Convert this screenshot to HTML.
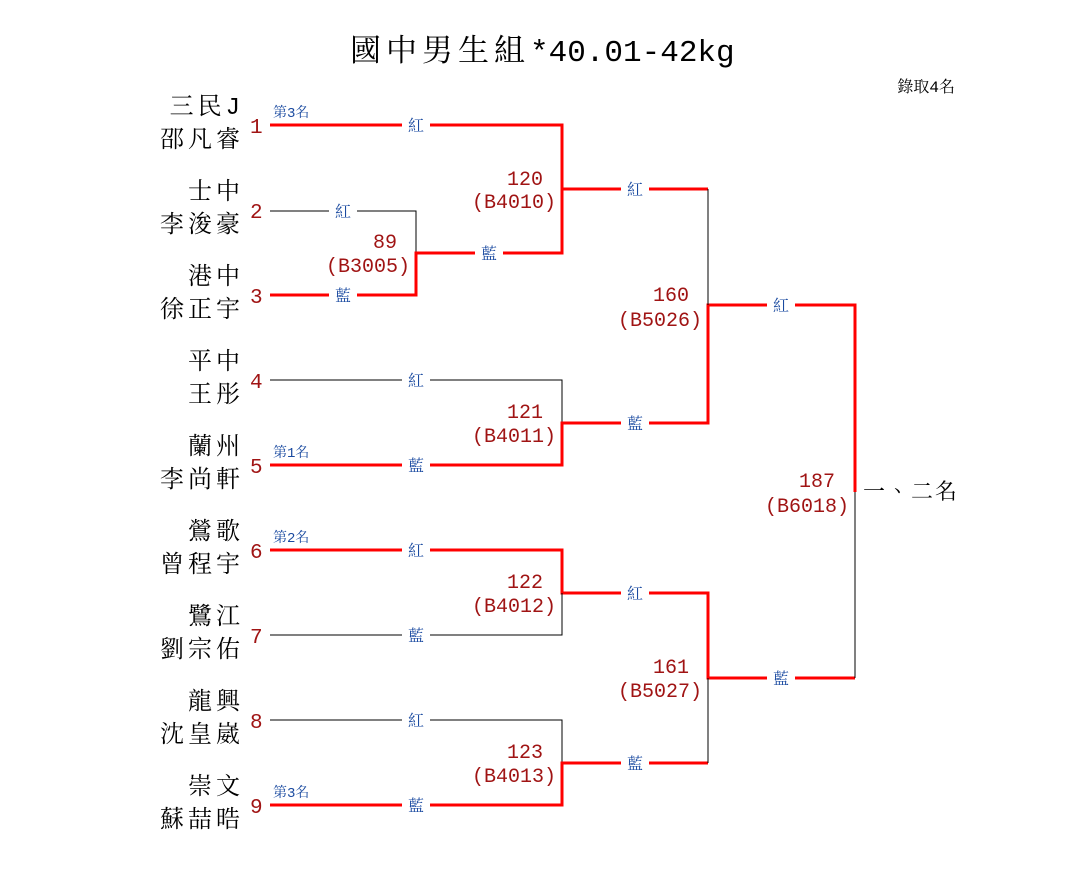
<!DOCTYPE html>
<html><head><meta charset="utf-8"><style>
html,body{margin:0;padding:0;background:#fff}
svg{display:block}
text{font-family:"Liberation Mono","Noto Serif CJK TC","Noto Serif CJK SC",serif}
.nm{font-size:24px;fill:#000;text-anchor:end;letter-spacing:4px}
.no{font-size:21px;fill:#a01414}
.mt{font-size:20px;fill:#a01414;text-anchor:end}
.lb{font-size:16px;fill:#1a4aa0;text-anchor:middle}
.sm{font-size:14px;fill:#1a4aa0}
.r{stroke:#ff0000;stroke-width:3;fill:none}
.k{stroke:#000;stroke-width:1;fill:none}
</style></head><body>
<svg width="1085" height="890" xmlns="http://www.w3.org/2000/svg">
<text x="350" y="61" font-size="31"><tspan letter-spacing="5">國中男生組</tspan><tspan>*40.01-42kg</tspan></text>
<text x="955" y="92" font-size="16" text-anchor="end">錄取4名</text>

<!-- names -->
<g transform="translate(4,0)">
<text class="nm" x="240" y="114">三民J</text><text class="nm" x="240" y="147">邵凡睿</text>
<text class="nm" x="240" y="199">士中</text><text class="nm" x="240" y="232">李浚豪</text>
<text class="nm" x="240" y="284">港中</text><text class="nm" x="240" y="317">徐正宇</text>
<text class="nm" x="240" y="369">平中</text><text class="nm" x="240" y="402">王彤</text>
<text class="nm" x="240" y="454">蘭州</text><text class="nm" x="240" y="487">李尚軒</text>
<text class="nm" x="240" y="539">鶯歌</text><text class="nm" x="240" y="572">曾程宇</text>
<text class="nm" x="240" y="624">鷺江</text><text class="nm" x="240" y="657">劉宗佑</text>
<text class="nm" x="240" y="709">龍興</text><text class="nm" x="240" y="742">沈皇崴</text>
<text class="nm" x="240" y="794">崇文</text><text class="nm" x="240" y="827">蘇喆晧</text>
</g>

<!-- seeds -->
<text class="no" x="250" y="133">1</text>
<text class="no" x="250" y="218">2</text>
<text class="no" x="250" y="303">3</text>
<text class="no" x="250" y="388">4</text>
<text class="no" x="250" y="473">5</text>
<text class="no" x="250" y="558">6</text>
<text class="no" x="250" y="643">7</text>
<text class="no" x="250" y="728">8</text>
<text class="no" x="250" y="813">9</text>

<text class="sm" x="273" y="117">第3名</text>
<text class="sm" x="273" y="457">第1名</text>
<text class="sm" x="273" y="542">第2名</text>
<text class="sm" x="273" y="797">第3名</text>

<!-- lines -->
<path class="r" d="M270 125H562V189"/>
<path class="k" d="M270 211H416V253"/>
<path class="r" d="M270 295H416V253H562V189H708"/>
<path class="k" d="M270 380H562V423"/>
<path class="r" d="M270 465H562V423H708V305H855V492"/>
<path class="k" d="M708 189V305"/>
<path class="r" d="M270 550H562V593H708V678H855"/>
<path class="k" d="M270 635H562V593"/>
<path class="k" d="M270 720H562V763"/>
<path class="r" d="M270 805H562V763H708"/>
<path class="k" d="M708 678V763"/>
<path class="k" d="M855 492V678"/>

<!-- labels -->
<g fill="#fff">
<rect x="402" y="114" width="28" height="22"/>
<rect x="329" y="200" width="28" height="22"/>
<rect x="329" y="284" width="28" height="22"/>
<rect x="475" y="242" width="28" height="22"/>
<rect x="621" y="178" width="28" height="22"/>
<rect x="402" y="369" width="28" height="22"/>
<rect x="402" y="454" width="28" height="22"/>
<rect x="621" y="412" width="28" height="22"/>
<rect x="767" y="294" width="28" height="22"/>
<rect x="402" y="539" width="28" height="22"/>
<rect x="402" y="624" width="28" height="22"/>
<rect x="621" y="582" width="28" height="22"/>
<rect x="402" y="709" width="28" height="22"/>
<rect x="402" y="794" width="28" height="22"/>
<rect x="621" y="752" width="28" height="22"/>
<rect x="767" y="667" width="28" height="22"/>
</g>
<text class="lb" x="416" y="131">紅</text>
<text class="lb" x="343" y="217">紅</text>
<text class="lb" x="343" y="301">藍</text>
<text class="lb" x="489" y="259">藍</text>
<text class="lb" x="635" y="195">紅</text>
<text class="lb" x="416" y="386">紅</text>
<text class="lb" x="416" y="471">藍</text>
<text class="lb" x="635" y="429">藍</text>
<text class="lb" x="781" y="311">紅</text>
<text class="lb" x="416" y="556">紅</text>
<text class="lb" x="416" y="641">藍</text>
<text class="lb" x="635" y="599">紅</text>
<text class="lb" x="416" y="726">紅</text>
<text class="lb" x="416" y="811">藍</text>
<text class="lb" x="635" y="769">藍</text>
<text class="lb" x="781" y="684">藍</text>

<!-- match numbers -->
<text class="mt" x="397" y="248">89</text><text class="mt" x="410" y="272">(B3005)</text>
<text class="mt" x="543" y="185">120</text><text class="mt" x="556" y="208">(B4010)</text>
<text class="mt" x="543" y="418">121</text><text class="mt" x="556" y="442">(B4011)</text>
<text class="mt" x="543" y="588">122</text><text class="mt" x="556" y="612">(B4012)</text>
<text class="mt" x="543" y="758">123</text><text class="mt" x="556" y="782">(B4013)</text>
<text class="mt" x="689" y="301">160</text><text class="mt" x="702" y="326">(B5026)</text>
<text class="mt" x="689" y="673">161</text><text class="mt" x="702" y="697">(B5027)</text>
<text class="mt" x="835" y="487">187</text><text class="mt" x="849" y="512">(B6018)</text>

<text x="863" y="499" font-size="22" letter-spacing="2">一、二名</text>
</svg>
</body></html>
